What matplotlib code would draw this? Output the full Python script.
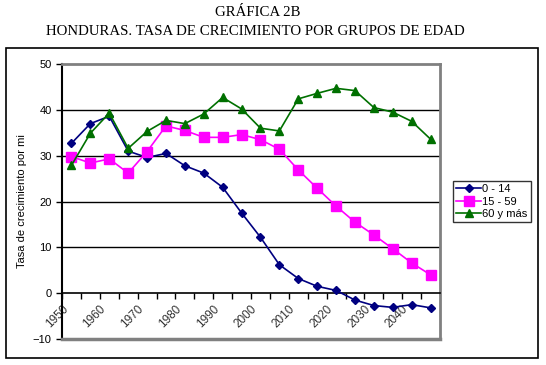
import matplotlib.pyplot as plt
from matplotlib.patches import Rectangle

# puntos en la mitad de cada quinquenio
anios = [1952.5 + 5 * i for i in range(20)]
g0_14 = [32.7, 37.0, 38.6, 31.0, 29.6, 30.5, 27.8, 26.2, 23.1, 17.5,
         12.2, 6.2, 3.2, 1.5, 0.6, -1.5, -2.7, -3.1, -2.5, -3.2]
g15_59 = [29.8, 28.4, 29.3, 26.2, 30.9, 36.5, 35.5, 34.0, 34.0, 34.6,
          33.5, 31.4, 26.9, 22.9, 19.0, 15.5, 12.7, 9.7, 6.6, 4.0]
g60 = [27.9, 34.9, 39.3, 31.6, 35.3, 37.7, 37.0, 39.1, 42.7, 40.2,
       36.0, 35.4, 42.4, 43.6, 44.7, 44.2, 40.5, 39.5, 37.5, 33.6]
etiquetas = ["0 - 14", "15 - 59", "60 y más"]
anios_tick = list(range(1950, 2050, 10))

plt.rcParams['font.family'] = ['Liberation Sans', 'DejaVu Sans']

fig = plt.figure(figsize=(5.46, 3.65), dpi=100)
ax = fig.add_axes([0.1136, 0.0712, 0.6923, 0.7534])

# marco exterior
fig.patches.append(Rectangle((0.011, 0.019), 0.974, 0.849, transform=fig.transFigure,
                             fill=False, edgecolor='black', lw=1.2))

# eje x cruzando en 0 (antes de poner las etiquetas, porque resetea los ticks)
ax.spines['bottom'].set_position(('data', 0))
ax.spines['bottom'].set_linewidth(1.2)
ax.spines['left'].set_linewidth(1.5)
for s in ['top', 'right']:
    ax.spines[s].set_color('#808080')
    ax.spines[s].set_linewidth(2)
ax.axhline(-10, color='#808080', lw=2.5, clip_on=False, zorder=4)

for y in [10, 20, 30, 40]:
    ax.axhline(y, color='black', lw=1, zorder=1)

ax.plot(anios, g0_14, color='#000080', marker='D', ms=4, lw=1.2, label=etiquetas[0], zorder=3)
ax.plot(anios, g15_59, color='#FF00FF', marker='s', ms=6.5, lw=1.2, label=etiquetas[1], zorder=3)
ax.plot(anios, g60, color='#007000', marker='^', ms=6, lw=1.2, label=etiquetas[2], zorder=3)

ax.set_xlim(1950, 2050)
ax.set_ylim(-10, 50)
ax.set_yticks(range(-10, 51, 10))
ax.set_xticks(anios_tick)
ax.set_xticks(range(1955, 2051, 10), minor=True)
ax.set_xticklabels([str(a) for a in anios_tick], rotation=45, ha='right', va='top',
                   rotation_mode='anchor', fontsize=8.5, color='#333333')
ax.tick_params(axis='x', which='both', direction='out', length=4, width=1, pad=3)
ax.tick_params(axis='y', direction='out', length=4, width=1, labelsize=8)

ax.set_ylabel("Tasa de crecimiento por mi", fontsize=8, labelpad=4)

leg = ax.legend(loc='center left', bbox_to_anchor=(1.02, 0.5), fontsize=8, frameon=True,
                fancybox=False, edgecolor='black', handlelength=2.2, borderpad=0.3,
                labelspacing=0.2, handletextpad=0.1)
leg.get_frame().set_linewidth(1)

fig.text(0.472, 0.965, "GRÁFICA 2B", ha='center', va='center', family='Liberation Serif', fontsize=10.7)
fig.text(0.467, 0.913, "HONDURAS. TASA DE CRECIMIENTO POR GRUPOS DE EDAD", ha='center', va='center',
         family='Liberation Serif', fontsize=10.7)

fig.savefig("out.png", dpi=100)
